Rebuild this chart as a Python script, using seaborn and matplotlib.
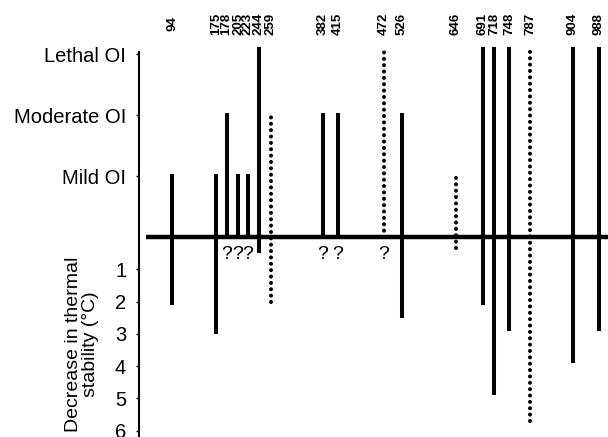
import matplotlib
matplotlib.use("Agg")
import matplotlib.pyplot as plt
import matplotlib.transforms as mtransforms
import seaborn as sns
import numpy as np

sns.set_theme(style="ticks")
plt.rcParams['font.family'] = ['Liberation Sans', 'DejaVu Sans']

# --- data ---
residues = [94, 175, 178, 205, 223, 244, 259, 382, 415, 472, 526, 646, 691, 718, 748, 787, 904, 988]
# schematic position of each residue along the chain (as drawn)
position = [172, 216, 226.5, 238, 247.5, 259, 271, 323, 338, 384, 401.5, 455.5, 483, 494, 509, 530, 572.5, 599]
# phenotype: 1 = mild, 2 = moderate, 3 = lethal
phenotype = [1, 1, 2, 1, 1, 3, 2, 2, 2, 3, 2, 1, 3, 3, 3, 3, 3, 3]
# decrease in thermal stability (deg C); None = not known ("?")
stability = [2.1, 3.0, None, None, None, 0.5, 2.0, None, None, None, 2.5, 0.35, 2.1, 4.9, 2.9, 5.7, 3.9, 2.9]
# mutation group (B drawn dotted)
group = ['A', 'A', 'A', 'A', 'A', 'A', 'B', 'A', 'A', 'B', 'A', 'B', 'A', 'A', 'A', 'B', 'A', 'A']

phenotype_names = ['Mild OI', 'Moderate OI', 'Lethal OI']
stab_ticks = [1, 2, 3, 4, 5, 6]

LEVEL = 1.89  # height of one phenotype step, in deg C units of the lower axis

fig = plt.figure(figsize=(6.08, 4.37), dpi=100)
ax = fig.add_axes([139 / 608, 0, 469 / 608, 385 / 437])

lw = 2.9
for x, ph, st, g in zip(position, phenotype, stability, group):
    # lethal bars run a little past the top of the axis
    top = ph * LEVEL + (0.22 if ph == 3 else 0.06)
    bottom = -st if st is not None else 0
    if g == 'A':
        ax.plot([x, x], [bottom, top], color='black', lw=lw,
                solid_capstyle='butt', clip_on=False)
    else:
        ax.plot([x, x], [bottom, top], color='black', lw=lw,
                linestyle=(0, (0.01, 1.57)), dash_capstyle='round', clip_on=False)
    if st is None:
        ax.text(x, -0.55, '?', ha='center', va='center', fontsize=14, color='black')

# thick baseline
ax.plot([146, 608], [0, 0], color='black', lw=3.2, solid_capstyle='butt', clip_on=False)

# residue labels on top
trans = mtransforms.blended_transform_factory(ax.transData, fig.transFigure)
for x, r in zip(position, residues):
    ax.text(x, 1 - 24 / 437, str(r), transform=trans, rotation=90,
            ha='center', va='center', fontsize=9.5, fontweight='bold', color='black')

ax.set_xlim(139, 608)
ax.set_ylim(-6.2, 5.74)

yt = [-t for t in stab_ticks] + [LEVEL * (i + 1) for i in range(len(phenotype_names))]
ylab = [str(t) for t in stab_ticks] + phenotype_names
ax.set_yticks(yt)
ax.set_yticklabels(ylab)
ax.tick_params(axis='y', direction='out', length=2.2, width=1, pad=7, labelsize=14.5,
               colors='black')
ax.set_xticks([])

sns.despine(ax=ax, top=True, right=True, bottom=True)
ax.spines['left'].set_linewidth(1.5)
ax.spines['left'].set_color('black')

ax.set_ylabel("Decrease in thermal\nstability (\u00b0C)", fontsize=14, color='black',
              ha='center', va='center', multialignment='center', linespacing=1.0)
ax.yaxis.set_label_coords(-0.122, 0.24)

ax.set_facecolor('white')
fig.savefig('out.png', dpi=100, facecolor='white')
